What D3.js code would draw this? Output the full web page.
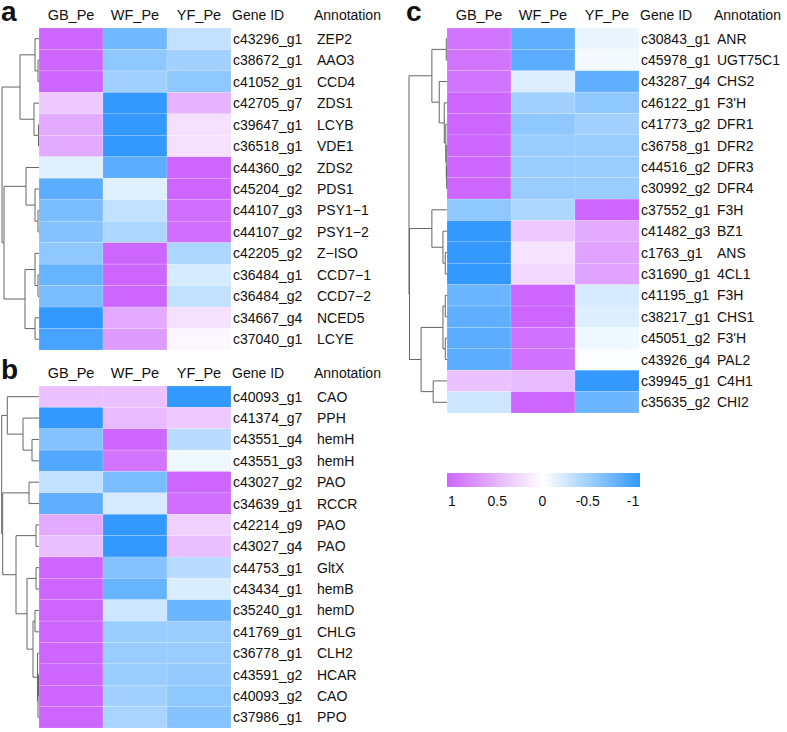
<!DOCTYPE html>
<html>
<head>
<meta charset="utf-8">
<script src="https://cdn.jsdelivr.net/npm/d3@7"></script>
<style>
  body { margin: 0; background: #fff; }
  text { font-family: "Liberation Sans", Arial, Helvetica, sans-serif; fill: #111; }
</style>
</head>
<body>
<div id="chart"></div>
<script>
let samples = ["GB_Pe", "WF_Pe", "YF_Pe"];

/* Panel a */
let genesA = ["c43296_g1", "c38672_g1", "c41052_g1", "c42705_g7", "c39647_g1", "c36518_g1", "c44360_g2", "c45204_g2",
  "c44107_g3", "c44107_g2", "c42205_g2", "c36484_g1", "c36484_g2", "c34667_g4", "c37040_g1"];
let annoA = ["ZEP2", "AAO3", "CCD4", "ZDS1", "LCYB", "VDE1", "ZDS2", "PDS1", "PSY1\u22121", "PSY1\u22122", "Z\u2212ISO",
  "CCD7\u22121", "CCD7\u22122", "NCED5", "LCYE"];
let valuesA = [
  [1, -0.7, -0.3], [1, -0.55, -0.45], [1, -0.45, -0.55], [0.35, -1, 0.5], [0.55, -1, 0.2], [0.55, -1, 0.2],
  [-0.15, -0.8, 1], [-0.8, -0.15, 1], [-0.65, -0.3, 0.95], [-0.6, -0.4, 0.95], [-0.55, 1, -0.4],
  [-0.75, 1, -0.2], [-0.65, 1, -0.3], [-1, 0.55, 0.2], [-0.9, 0.65, 0.05]
];
// [left, right, height]
let treeA = [[[0, [1, 2, 1], 4], [3, [4, 5, 0.5], 5], 19],
  [[6, [7, [8, 9, 1], 4], 13], [[10, [11, 12, 1], 4], [13, 14, 4], 14], 35], 37];

/* Panel b */
let genesB = ["c40093_g1", "c41374_g7", "c43551_g4", "c43551_g3", "c43027_g2", "c34639_g1", "c42214_g9", "c43027_g4",
  "c44753_g1", "c43434_g1", "c35240_g1", "c41769_g1", "c36778_g1", "c43591_g2", "c40093_g2", "c37986_g1"];
let annoB = ["CAO", "PPH", "hemH", "hemH", "PAO", "RCCR", "PAO", "PAO", "GltX", "hemB", "hemD", "CHLG", "CLH2",
  "HCAR", "CAO", "PPO"];
let valuesB = [
  [0.4, 0.4, -1], [-1, 0.45, 0.35], [-0.6, 1, -0.35], [-0.85, 0.9, -0.08], [-0.3, -0.65, 1], [-0.78, -0.2, 0.95],
  [0.55, -1, 0.3], [0.42, -1, 0.42], [1, -0.6, -0.35], [1, -0.75, -0.18], [1, -0.25, -0.72], [1, -0.5, -0.5],
  [1, -0.5, -0.5], [1, -0.5, -0.52], [1, -0.45, -0.55], [1, -0.42, -0.6]
];
let treeB = [[0, [1, [2, 3, 7], 16], 31.7],
  [[4, 5, 10], [[6, 7, 3], [[8, 9, 3], [[10, 11, 4], [12, [[13, 14, 0.5], 15, 1], 1.5], 6], 12], 23], 36.3], 37.3];

/* Panel c */
let genesC = ["c30843_g1", "c45978_g1", "c43287_g4", "c46122_g1", "c41773_g2", "c36758_g1", "c44516_g2", "c30992_g2",
  "c37552_g1", "c41482_g3", "c1763_g1", "c31690_g1", "c41195_g1", "c38217_g1", "c45051_g2", "c43926_g4",
  "c39945_g1", "c35635_g2"];
let annoC = ["ANR", "UGT75C1", "CHS2", "F3'H", "DFR1", "DFR2", "DFR3", "DFR4", "F3H", "BZ1", "ANS", "4CL1", "F3H",
  "CHS1", "F3'H", "PAL2", "C4H1", "CHI2"];
let valuesC = [
  [0.9, -0.78, -0.1], [0.9, -0.8, -0.06], [0.9, -0.17, -0.78], [1, -0.45, -0.55], [1, -0.55, -0.45],
  [1, -0.5, -0.5], [1, -0.5, -0.5], [1, -0.5, -0.5], [-0.55, -0.4, 1], [-1, 0.35, 0.55], [-1, 0.18, 0.6],
  [-1, 0.25, 0.6], [-0.72, 1, -0.2], [-0.78, 1, -0.17], [-0.8, 0.92, -0.08], [-0.8, 0.92, -0.02],
  [0.4, 0.45, -1], [-0.25, 1, -0.72]
];
let treeC = [[[0, 1, 0.7], [2, [3, [4, [5, [6, 7, 0.4], 0.7], 1.2], 2.7], 7.7], 15],
  [[8, [9, [10, 11, 1.7], 4], 15], [[[12, 13, 1.7], [14, 15, 1.7], 4], [16, 17, 13.7], 25.7], 37.2], 37.7];

let legendTicks = [1, 0.5, 0, -0.5, -1];

let color = d3.scaleLinear()
  .domain([-1, 0, 1])
  .range(["#3399ff", "#ffffff", "#cc66ff"]);

let svg = d3.select("#chart").append("svg")
  .attr("width", 787)
  .attr("height", 732);

function drawPanel(p) {
  let g = svg.append("g");

  let x = d3.scaleBand().domain(samples).range([p.left, p.left + 192]);
  let y = d3.scaleBand().domain(d3.range(p.genes.length)).range([p.top, p.bottom]);

  // буква панели
  g.append("text")
    .attr("x", p.letterX).attr("y", p.top - 7)
    .style("font-size", "28px").style("font-weight", "bold")
    .text(p.letter);

  // заголовки колонок
  g.selectAll(".col").data(samples).enter().append("text")
    .attr("x", d => x(d) + x.bandwidth() / 2)
    .attr("y", p.top - 8)
    .attr("text-anchor", "middle")
    .style("font-size", "14.5px")
    .text(d => d);

  g.append("text").attr("x", p.left + 193).attr("y", p.top - 8)
    .style("font-size", "14px").text("Gene ID");
  g.append("text").attr("x", p.annoX - 3).attr("y", p.top - 8)
    .style("font-size", "14px").text("Annotation");

  // ячейки
  p.values.forEach(function(row, i) {
    g.selectAll(".cell" + i).data(row).enter().append("rect")
      .attr("x", (d, j) => x(samples[j]))
      .attr("y", y(i))
      .attr("width", x.bandwidth())
      .attr("height", y.bandwidth())
      .attr("fill", d => color(d))
      .attr("stroke", "#ffffff")
      .attr("stroke-opacity", 0.25)
      .attr("stroke-width", 0.6);
  });

  // подписи строк
  g.selectAll(".gene").data(p.genes).enter().append("text")
    .attr("x", p.left + 194)
    .attr("y", (d, i) => y(i) + y.bandwidth() / 2 + 5)
    .style("font-size", "14px")
    .text(d => d);

  g.selectAll(".anno").data(p.anno).enter().append("text")
    .attr("x", p.annoX)
    .attr("y", (d, i) => y(i) + y.bandwidth() / 2 + 5)
    .style("font-size", "14px")
    .text(d => d);

  // дендрограмма
  let hx = d3.scaleLinear().domain([0, p.maxH]).range([p.left, p.rootX]);
  let root = d3.hierarchy(p.tree, d => Array.isArray(d) ? [d[0], d[1]] : null);
  root.eachAfter(function(n) {
    if (n.children) {
      n.h = n.data[2];
      n.yy = (n.children[0].yy + n.children[1].yy) / 2;
    } else {
      n.h = 0;
      n.yy = y(n.data) + y.bandwidth() / 2;
    }
  });

  g.selectAll(".link").data(root.links()).enter().append("path")
    .attr("d", l => "M" + hx(l.target.h) + "," + l.target.yy + "H" + hx(l.source.h) + "V" + l.source.yy)
    .attr("fill", "none")
    .attr("stroke", "#666")
    .attr("stroke-width", 1);
}

drawPanel({ letter: "a", letterX: 1, left: 39, top: 28, bottom: 350, rootX: 1.5, maxH: 37.5,
  annoX: 317, genes: genesA, anno: annoA, values: valuesA, tree: treeA });
drawPanel({ letter: "b", letterX: 1, left: 39, top: 386, bottom: 728, rootX: 1.5, maxH: 37.5,
  annoX: 317, genes: genesB, anno: annoB, values: valuesB, tree: treeB });
drawPanel({ letter: "c", letterX: 406, left: 447, top: 28, bottom: 413, rootX: 409, maxH: 37.7,
  annoX: 717, genes: genesC, anno: annoC, values: valuesC, tree: treeC });

/* Легенда */
let lg = svg.append("g");
let defs = svg.append("defs");
let grad = defs.append("linearGradient").attr("id", "legendGrad");
grad.selectAll("stop").data(d3.range(0, 1.01, 0.1)).enter().append("stop")
  .attr("offset", d => d * 100 + "%")
  .attr("stop-color", d => color(1 - 2 * d));

lg.append("rect")
  .attr("x", 447).attr("y", 473)
  .attr("width", 193).attr("height", 14)
  .attr("fill", "url(#legendGrad)");

let lx = d3.scaleLinear().domain([1, -1]).range([452, 633]);
lg.selectAll(".tick").data(legendTicks).enter().append("text")
  .attr("x", d => lx(d))
  .attr("y", 506)
  .attr("text-anchor", "middle")
  .style("font-size", "14px")
  .text(d => d);
</script>
</body>
</html>
